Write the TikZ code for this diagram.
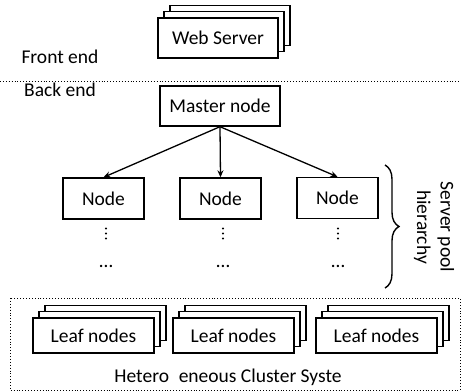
\documentclass[tikz,border=0pt]{standalone}
\usepackage{fontspec}
\setmainfont{Carlito}
\usetikzlibrary{shadows,arrows.meta,decorations.pathreplacing}
\begin{document}
\begin{tikzpicture}[x=1pt,y=-1pt,
  font=\fontsize{19.5}{23.4}\selectfont,
  box/.style={draw,line width=1.4pt,fill=white,inner sep=0pt},
  stack/.style={box,double copy shadow={shadow xshift=6pt,shadow yshift=6.3pt,fill=white,draw=black,line width=1.4pt}},
  arr/.style={line width=1.3pt,-{Stealth[length=7pt,width=6pt]}},
  lbl/.style={inner sep=0pt},
  vdot/.style={circle,fill=black,inner sep=0pt,minimum size=2.2pt}]
\useasboundingbox (0,0) rectangle (461,391);

% front end
\node[stack,minimum width=120pt,minimum height=40pt] (ws) at (218,38) {Web Server};
\node[lbl] (fe) at (60,57) {Front end};
\coordinate (dl) at (0,81);
\coordinate (dr) at (461,81);
\draw[dotted,line width=0.9pt] (dl) -- (dr);
\node[lbl] (be) at (60,90) {Back end};

% server pool
\node[box,minimum width=120pt,minimum height=40pt] (m) at (220,106) {Master node};
\node[box,minimum width=81pt,minimum height=41pt] (n1) at (103.5,198.5) {Node};
\node[box,minimum width=81pt,minimum height=41pt] (n2) at (220.5,198.5) {Node};
\node[box,minimum width=81pt,minimum height=41pt] (n3) at (337.5,198) {Node};
\draw[arr] (m.south) -- (n1.north);
\draw[arr] (m.south) -- (n2.north);
\draw[arr] (m.south) -- (n3.north);

% vertical and horizontal ellipses under each node
\foreach \i/\x in {1/106,2/223,3/338}{
  \node[vdot] (va\i) at (\x,228.5) {};
  \node[vdot] (vb\i) at (\x,233.5) {};
  \node[vdot] (vc\i) at (\x,238.5) {};
  \node[lbl] (h\i) at (\x,266) {…};
}

\coordinate (bt) at (385,165);
\coordinate (bb) at (385,288);
\draw[line width=1.4pt,decorate,decoration={brace,amplitude=14pt}] (bt) -- (bb);
\node[lbl,rotate=-90,align=center] (sp) at (434,227) {Server pool\\hierarchy};

% heterogeneous cluster
\coordinate (c1) at (10,298);
\coordinate (c2) at (460,390);
\draw[dotted,line width=0.9pt] (c1) rectangle (c2);
\foreach \i/\x in {1/93.5,2/233.5,3/376.5}{
  \node[stack,minimum width=121pt,minimum height=35pt] (l\i) at (\x,335.5) {Leaf nodes};
}
\node[lbl] (hc) at (228,377) {Hetero\hspace{0.5em}eneous Cluster Syste};
\end{tikzpicture}
\end{document}
